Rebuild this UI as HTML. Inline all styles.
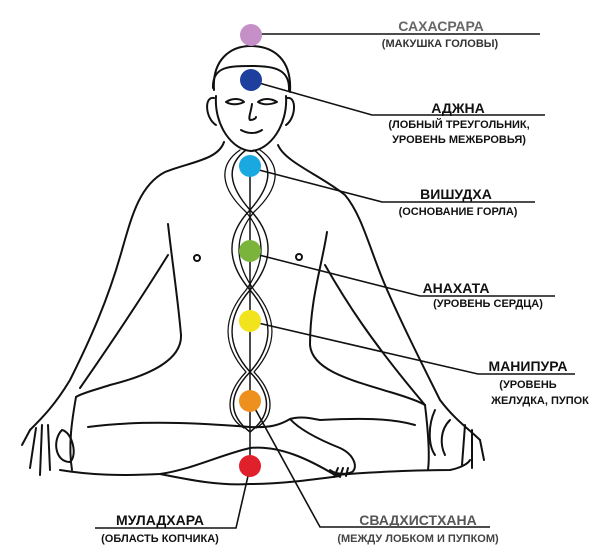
<!DOCTYPE html>
<html><head><meta charset="utf-8"><style>
html,body{margin:0;padding:0;background:#fff;width:600px;height:556px;overflow:hidden}
svg{display:block}
text{font-family:"Liberation Sans","DejaVu Sans",sans-serif;font-weight:bold;text-anchor:middle}
</style></head><body>
<svg width="600" height="556" viewBox="0 0 600 556" xmlns="http://www.w3.org/2000/svg">
<g fill="none" stroke="#111" stroke-width="2" stroke-linecap="round" stroke-linejoin="round">
<!-- head -->
<path d="M214 90 C212 60 230 46 251 46 C274 46 292 60 290 92"/>
<path d="M213 88 C212 66 230 66 251 66 C272 66 290 68 289 90"/>
<path d="M216 96 C214 125 232 150 251 151 C270 150 288 125 286 96"/>
<path d="M214 98 C204 96 205 118 216 125"/>
<path d="M287 98 C297 96 296 118 286 125"/>
<path d="M226 102 C232 98 240 98 244 102 C238 105 231 105 226 102"/>
<path d="M258 102 C263 98 271 98 277 102 C270 105 263 105 258 102"/>
<path d="M252 104 C251 112 248 118 250 120 C254 120 256 118 256 117"/>
<path d="M241 130 C248 134 256 134 262 130"/>
<!-- left body/arm -->
<path d="M224 142 C218 160 190 162 165 172 C140 185 132 215 122 250 C108 300 90 340 70 380 C55 405 42 418 30 430"/>
<path d="M168 224 C172 260 178 300 181 335 C182 360 150 375 110 385 C95 390 82 393 76 397"/>
<path d="M168 255 C140 300 110 345 80 388"/>
<path d="M30 430 L22 445 M36 428 L30 468 M42 425 L40 475 M48 425 L50 470"/>
<path d="M62 430 C52 440 55 462 70 462 C78 455 72 432 62 430"/>
<path d="M76 397 C72 420 68 445 72 470"/>
<!-- right body/arm -->
<path d="M278 145 C285 162 320 175 345 195 C362 215 370 250 385 285 C400 320 420 360 440 400 C455 420 470 430 480 440"/>
<path d="M327 232 C322 265 310 300 310 345 C312 370 350 380 390 392 C410 398 420 402 425 405"/>
<path d="M325 265 C345 300 370 340 425 405"/>
<path d="M435 410 C428 425 428 445 435 455 M450 420 C440 430 440 445 445 455"/>
<path d="M465 425 L462 465 M472 430 L472 468 M480 440 L484 460"/>
<path d="M425 405 C428 430 430 455 428 470"/>
<!-- legs -->
<path d="M88 427 C140 420 200 423 250 427 C270 428 280 425 290 419 C300 416 310 418 320 420 C360 418 390 418 415 425"/>
<path d="M290 419 C300 430 320 440 340 448 C355 455 358 468 352 472 C345 475 335 474 330 470"/>
<path d="M60 470 C90 475 120 476 160 474 C190 470 220 455 250 448 C280 445 310 460 335 475 C370 472 420 470 450 470 C460 468 468 464 470 460"/>
<path d="M160 474 C190 480 220 486 250 484 C280 484 310 480 340 476"/>
<path d="M338 468 L334 477 M343 468 L340 477 M348 468 L346 476"/>
<circle cx="197" cy="258" r="3"/><circle cx="299" cy="257" r="3"/>
<!-- spine channels -->
<path d="M250 166 L250 465" stroke-width="1.5"/>
<path d="M246 150 C226 165 228 185 250 210 C274 235 274 262 250 290 C226 318 226 345 250 372 C272 395 272 415 250 432" stroke-width="1.5"/>
<path d="M254 150 C274 165 272 185 250 210 C226 235 226 262 250 290 C274 318 274 345 250 372 C228 395 228 415 250 432" stroke-width="1.5"/>
<path d="M240 150 C218 165 220 188 246 212 C266 236 266 262 246 290 C222 318 222 345 246 372 C224 395 226 418 244 428" stroke-width="1.3"/>
<path d="M260 150 C282 165 280 188 254 212 C234 236 234 262 254 290 C278 318 278 345 254 372 C276 395 274 418 256 428" stroke-width="1.3"/>
</g>
<!-- connector lines -->
<g fill="none" stroke="#111" stroke-width="1.6">
<path d="M260 34 L540 34"/>
<path d="M259 83 L372 115 L545 115"/>
<path d="M259 170 L382 202 L535 202"/>
<path d="M259 255 L420 296 L555 296"/>
<path d="M258 323 L478 374 L575 374"/>
<path d="M253 405 L320 527 L490 527"/>
<path d="M248 476 L236 528 L95 528"/>
</g>
<!-- chakras -->
<circle cx="251" cy="35" r="11" fill="#c58fc8"/>
<circle cx="251" cy="80" r="11" fill="#1e3f9e"/>
<circle cx="250" cy="166" r="11" fill="#1aa8e0"/>
<circle cx="250" cy="251" r="11" fill="#7ab43a"/>
<circle cx="250" cy="321" r="11" fill="#f2e41c"/>
<circle cx="250" cy="401" r="11" fill="#ee901e"/>
<circle cx="250" cy="466" r="11" fill="#e0202a"/>
<!-- labels -->
<g fill="#111">
<text x="441" y="31" font-size="14" fill="#666">САХАСРАРА</text>
<text x="440" y="47" font-size="11" fill="#333">(МАКУШКА ГОЛОВЫ)</text>
<text x="458" y="113" font-size="14">АДЖНА</text>
<text x="459" y="128" font-size="11">(ЛОБНЫЙ ТРЕУГОЛЬНИК,</text>
<text x="459" y="143" font-size="11">УРОВЕНЬ МЕЖБРОВЬЯ)</text>
<text x="456" y="199" font-size="14">ВИШУДХА</text>
<text x="458" y="215" font-size="11">(ОСНОВАНИЕ ГОРЛА)</text>
<text x="456" y="293" font-size="14">АНАХАТА</text>
<text x="488" y="307" font-size="11">(УРОВЕНЬ СЕРДЦА)</text>
<text x="528" y="371" font-size="14">МАНИПУРА</text>
<text x="528" y="388" font-size="11">(УРОВЕНЬ</text>
<text x="540" y="404" font-size="11">ЖЕЛУДКА, ПУПОК</text>
<text x="418" y="525" font-size="14" fill="#555">СВАДХИСТХАНА</text>
<text x="418" y="542" font-size="11" fill="#444">(МЕЖДУ ЛОБКОМ И ПУПКОМ)</text>
<text x="160" y="525" font-size="14">МУЛАДХАРА</text>
<text x="160" y="542" font-size="11">(ОБЛАСТЬ КОПЧИКА)</text>
</g>
</svg>
</body></html>
